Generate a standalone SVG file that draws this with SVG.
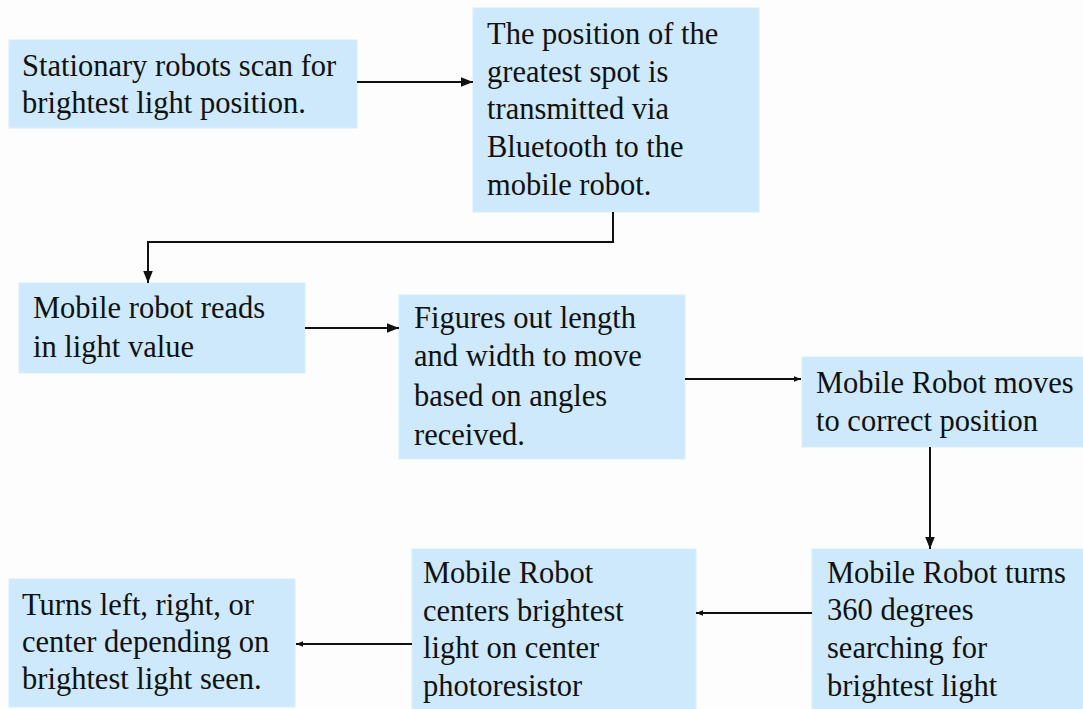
<svg xmlns="http://www.w3.org/2000/svg" width="1083" height="709" viewBox="0 0 1083 709">
<defs>
<style>
.box{fill:#cde9fb;stroke:#d6eefc;stroke-width:1}
.t{font-family:'Liberation Serif','Times New Roman',serif;font-size:30.5px;fill:#111}
.c{fill:none;stroke:#111;stroke-width:2}
</style>
<marker id="ab" markerUnits="userSpaceOnUse" markerWidth="12" markerHeight="12" viewBox="0 0 10 10" refX="10" refY="5" orient="auto">
<path d="M0,1 L10,5 L0,9 Z" fill="#111"/>
</marker>
<marker id="as" markerUnits="userSpaceOnUse" markerWidth="7" markerHeight="7" viewBox="0 0 10 10" refX="10" refY="5" orient="auto">
<path d="M0,1 L10,5 L0,9 Z" fill="#111"/>
</marker>
</defs>
<rect x="0" y="0" width="1083" height="709" fill="#fdfdfd"/>
<g id="n1"><rect class="box" x="9" y="40" width="348" height="88"/>
<text class="t" x="22" y="76">Stationary robots scan for</text>
<text class="t" x="22" y="113">brightest light position.</text></g>
<g id="n2"><rect class="box" x="473" y="8" width="286" height="204"/>
<text class="t" x="487" y="44">The position of the</text>
<text class="t" x="487" y="82">greatest spot is</text>
<text class="t" x="487" y="119">transmitted via</text>
<text class="t" x="487" y="157">Bluetooth to the</text>
<text class="t" x="487" y="195">mobile robot.</text></g>
<g id="n3"><rect class="box" x="19" y="283" width="286" height="90"/>
<text class="t" x="33" y="318">Mobile robot reads</text>
<text class="t" x="33" y="357">in light value</text></g>
<g id="n4"><rect class="box" x="399" y="295" width="286" height="164"/>
<text class="t" x="414" y="328">Figures out length</text>
<text class="t" x="414" y="366">and width to move</text>
<text class="t" x="414" y="406">based on angles</text>
<text class="t" x="414" y="445">received.</text></g>
<g id="n5"><rect class="box" x="802" y="357" width="290" height="90"/>
<text class="t" x="816" y="393">Mobile Robot moves</text>
<text class="t" x="816" y="431">to correct position</text></g>
<g id="n6"><rect class="box" x="812" y="549" width="280" height="170"/>
<text class="t" x="827" y="583">Mobile Robot turns</text>
<text class="t" x="827" y="620">360 degrees</text>
<text class="t" x="827" y="658">searching for</text>
<text class="t" x="827" y="696">brightest light</text></g>
<g id="n7"><rect class="box" x="412" y="549" width="284" height="170"/>
<text class="t" x="423" y="583">Mobile Robot</text>
<text class="t" x="423" y="621">centers brightest</text>
<text class="t" x="423" y="658">light on center</text>
<text class="t" x="423" y="696">photoresistor</text></g>
<g id="n8"><rect class="box" x="9" y="579" width="286" height="128"/>
<text class="t" x="22" y="615">Turns left, right, or</text>
<text class="t" x="22" y="652">center depending on</text>
<text class="t" x="22" y="689">brightest light seen.</text></g>
<g id="connectors">
<path class="c" d="M357,82 H473" marker-end="url(#ab)"/>
<path class="c" d="M613,212 V242 H148 V283" marker-end="url(#ab)"/>
<path class="c" d="M305,328 H399" marker-end="url(#ab)"/>
<path class="c" d="M685,379 H801" marker-end="url(#as)"/>
<path class="c" d="M930,447 V549" marker-end="url(#ab)"/>
<path class="c" d="M812,613 H696" marker-end="url(#as)"/>
<path class="c" d="M412,644 H296" marker-end="url(#as)"/>
</g>
</svg>
